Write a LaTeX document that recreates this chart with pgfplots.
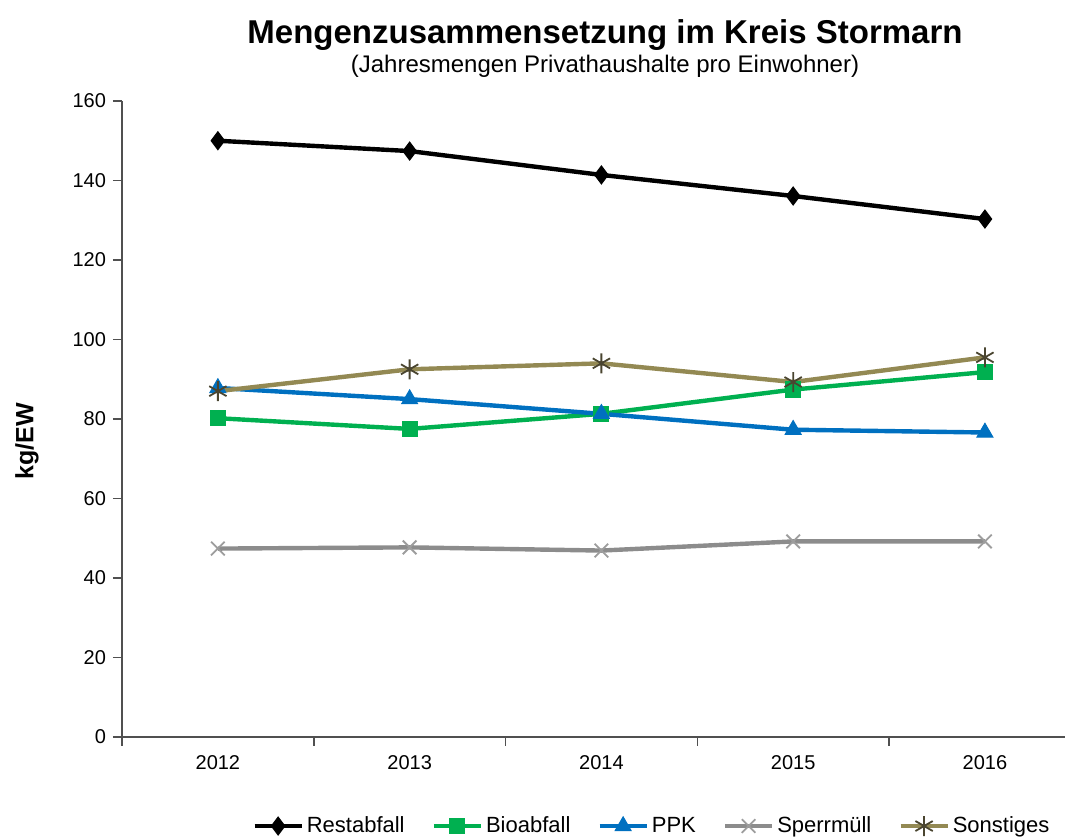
\documentclass[border=0pt]{standalone}
\usepackage{pgfplots}
\pgfplotsset{compat=1.18}
\usepackage{fontspec}
\setmainfont{Liberation Sans}
\definecolor{cBio}{HTML}{00B050}
\definecolor{cPPK}{HTML}{0070C0}
\definecolor{cSperr}{HTML}{8C8C8C}
\definecolor{cSonst}{HTML}{938953}
\definecolor{cSonstMark}{HTML}{4A4530}
\definecolor{cAxis}{HTML}{505050}
\begin{document}
\begin{tikzpicture}
\begin{axis}[
  at={(0pt,0pt)}, anchor=south west,
  scale only axis, width=479.4pt, height=318pt,
  xmin=-0.5, xmax=4.5, ymin=0, ymax=160,
  axis lines*=left,
  axis line style={cAxis, line width=0.75pt},
  tick align=outside,
  major tick length=4.5pt, minor tick length=4.5pt,
  tick style={cAxis, line width=0.75pt},
  xtick={0,1,2,3,4},
  xticklabels={2012,2013,2014,2015,2016},
  minor xtick={-0.5,0.5,1.5,2.5,3.5,4.5},
  major x tick style={draw=none},
  ytick={0,20,...,160},
  /pgf/number format/assume math mode=true,
  tick label style={font=\fontsize{10}{12}\selectfont, text=black},
  xticklabel style={yshift=-1pt},
  ylabel={kg/EW},
  every axis y label/.style={at={(axis description cs:-0.099,0.465)}, rotate=90, anchor=center, font=\fontsize{12.5}{14}\selectfont\bfseries},
  legend columns=5,
  legend style={draw=none, fill=none, inner sep=0pt, anchor=west,
    at={(rel axis cs:0.1356,-0.140)},
    font=\fontsize{11}{13}\selectfont,
    /tikz/every even column/.append style={column sep=12pt},
    nodes={inner sep=1.5pt}},
  legend image code/.code={\draw[mark repeat=2,mark phase=2,#1] plot coordinates {(0pt,0pt) (11.75pt,0pt) (23.5pt,0pt)};},
]
\addplot[black, line width=2.2pt, mark=diamond*, mark size=4.5pt, mark options={solid, fill=black, line width=0.5pt}]
  coordinates {(0,150.0) (1,147.4) (2,141.4) (3,136.1) (4,130.3)};
\addlegendentry{Restabfall}
\addplot[cBio, line width=2.2pt, mark=square*, mark size=3.8pt, mark options={solid, fill=cBio, line width=0.5pt}]
  coordinates {(0,80.2) (1,77.5) (2,81.3) (3,87.4) (4,91.8)};
\addlegendentry{Bioabfall}
\addplot[cPPK, line width=2.2pt, mark=triangle*, mark size=4.6pt, mark options={solid, fill=cPPK, line width=0.5pt}]
  coordinates {(0,87.8) (1,85.0) (2,81.3) (3,77.3) (4,76.6)};
\addlegendentry{PPK}
\addplot[cSperr, line width=2.2pt, mark=x, mark size=4.8pt, mark options={solid, draw=cSperr!85, line width=0.9pt}]
  coordinates {(0,47.4) (1,47.7) (2,46.9) (3,49.2) (4,49.2)};
\addlegendentry{Sperrmüll}
\addplot[cSonst, line width=2.2pt, mark=asterisk, mark size=5pt, mark options={solid, draw=cSonstMark, line width=0.9pt}]
  coordinates {(0,87.0) (1,92.5) (2,94.0) (3,89.3) (4,95.5)};
\addlegendentry{Sonstiges}
\end{axis}
\node[font=\fontsize{16.5}{20}\selectfont\bfseries] at (241.5pt,351pt) {Mengenzusammensetzung im Kreis Stormarn};
\node[font=\fontsize{12}{14}\selectfont] at (241.5pt,335.5pt) {(Jahresmengen Privathaushalte pro Einwohner)};
\pgfresetboundingbox
\path[use as bounding box] (-61pt,-50.5pt) rectangle (471.5pt,368.5pt);
\end{tikzpicture}
\end{document}
